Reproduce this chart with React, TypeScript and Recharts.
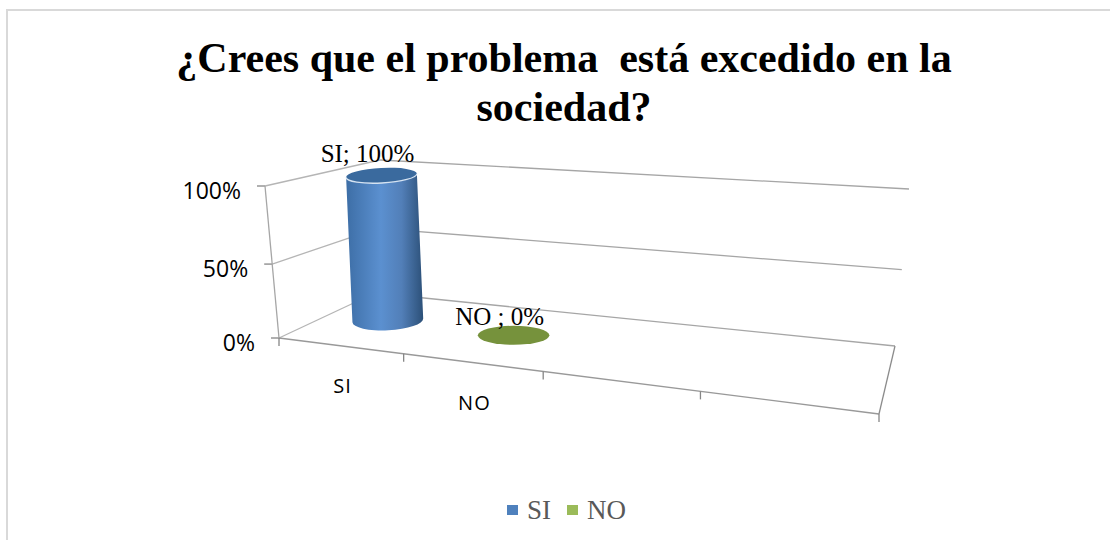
import React from 'react';
import { BarChart, Bar, XAxis, YAxis, Legend, LabelList } from 'recharts';

const categories = ['SI', 'NO', '', ''];
const values = [100, 0, null, null];
const dataLabels = ['SI; 100%', 'NO ; 0%', '', ''];
const yTicks = [0, 50, 100];
const legendNames = ['SI', 'NO'];
const titleLines = ['¿Crees que el problema  está excedido en la', 'sociedad?'];

const bodyColors = [
  ['#3d6ea6', '#5b90d0', '#527fb8', '#2c5078'],
  ['#9bbb59', '#9bbb59', '#9bbb59', '#9bbb59'],
];
const capColors = ['#3a6a9e', '#76923c'];
const legendColors = ['#4f81bd', '#9bbb59'];

const data = categories.map((name, i) => ({ name, value: values[i], label: dataLabels[i] }));

const serif = '"Liberation Serif", serif';
const sans = '"Open Sans", sans-serif';

// flat plot box that recharts lays out, the 3D look is projected from it
const plot = { left: 279, top: 186, width: 601, height: 152 };

// floor corners of the 3D box as seen on the page
const FL = [279, 338];
const FR = [879, 414];
const BR = [895, 346];
const BL = [375, 293];
// what 100% adds to each floor corner
const upFL = [-14, -152];
const upFR = [-4, -165];
const upBR = [14, -157];
const upBL = [5, -133];

const dx1 = FR[0] - BR[0];
const dx2 = BL[0] - BR[0];
const sx = FL[0] - FR[0] + BR[0] - BL[0];
const dy1 = FR[1] - BR[1];
const dy2 = BL[1] - BR[1];
const sy = FL[1] - FR[1] + BR[1] - BL[1];
const den = dx1 * dy2 - dx2 * dy1;
const g = (sx * dy2 - dx2 * sy) / den;
const h = (dx1 * sy - sx * dy1) / den;

// u along the categories, d into the depth, v = 0..1 of the value axis
const project = (u: number, d: number, v = 0) => {
  const w = g * u + h * d + 1;
  const x = ((FR[0] - FL[0] + g * FR[0]) * u + (BL[0] - FL[0] + h * BL[0]) * d + FL[0]) / w;
  const y = ((FR[1] - FL[1] + g * FR[1]) * u + (BL[1] - FL[1] + h * BL[1]) * d + FL[1]) / w;
  const up = [0, 1].map(
    (k) =>
      (1 - u) * (1 - d) * upFL[k] + u * (1 - d) * upFR[k] + u * d * upBR[k] + (1 - u) * d * upBL[k]
  );
  const vv = Math.pow(v, 1.04); // heights bunch up a little toward the top
  return { x: x + up[0] * vv, y: y + up[1] * vv };
};

const toU = (px: number) => (px - plot.left) / plot.width;
const toV = (py: number) => (plot.top + plot.height - py) / plot.height;

const Cylinder = (props: any) => {
  const { x, y, width, index } = props;
  const v = toV(y);
  const uc = toU(x + width / 2);
  const a = project(toU(x), 0.5);
  const b = project(toU(x + width), 0.5);
  const c = project(uc, 0.5);
  const t = project(uc, 0.5, v);
  const rx = Math.hypot(b.x - a.x, b.y - a.y) / 2;
  if (v <= 0.001) {
    return <ellipse cx={c.x + 2} cy={c.y + 1} rx={rx * 0.91} ry={9.5} fill={capColors[index]} />;
  }
  t.x -= 3; // the column leans a bit more than the walls do
  const tilt = -3;
  const cos = Math.cos((tilt * Math.PI) / 180);
  const sin = Math.sin((tilt * Math.PI) / 180);
  const bl = { x: c.x - rx * cos, y: c.y - rx * sin };
  const br = { x: c.x + rx * cos, y: c.y + rx * sin };
  const tl = { x: t.x - rx * cos, y: t.y - rx * sin };
  const tr = { x: t.x + rx * cos, y: t.y + rx * sin };
  const ry = 10;
  const ryTop = 7.5;
  return (
    <g>
      <defs>
        <linearGradient id={`cyl${index}`} x1="0" y1="0" x2="1" y2="0">
          <stop offset="0%" stopColor={bodyColors[index][0]} />
          <stop offset="45%" stopColor={bodyColors[index][1]} />
          <stop offset="72%" stopColor={bodyColors[index][2]} />
          <stop offset="100%" stopColor={bodyColors[index][3]} />
        </linearGradient>
      </defs>
      <path
        d={`M${tl.x} ${tl.y} L${tr.x} ${tr.y} L${br.x} ${br.y} A${rx} ${ry} ${tilt} 0 1 ${bl.x} ${bl.y} Z`}
        fill={`url(#cyl${index})`}
      />
      <ellipse cx={t.x} cy={t.y} rx={rx} ry={ryTop} fill={capColors[index]} transform={`rotate(${tilt} ${t.x} ${t.y})`} />
      <path d={`M${tl.x} ${tl.y} A${rx} ${ryTop} ${tilt} 0 0 ${tr.x} ${tr.y}`} fill="none" stroke="#d5e3f2" strokeWidth={1.3} />
    </g>
  );
};

// data labels were dragged by hand in the original, so each has its own nudge
const labelNudge = [[-17, -22], [-12, -18]];

const BarLabel = (props: any) => {
  const { x, y, width, value, index } = props;
  if (!value) return null;
  const p = project(toU(x + width / 2), 0.5, toV(y));
  return (
    <text
      x={p.x + labelNudge[index][0]}
      y={p.y + labelNudge[index][1]}
      textAnchor="middle"
      dominantBaseline="central"
      fontFamily={serif}
      fontSize={25}
      fill="#000"
      style={{ whiteSpace: 'pre' }}
    >
      {value}
    </text>
  );
};

const YTick = (props: any) => {
  const { y, payload } = props;
  const p = project(0, 0, toV(y));
  return (
    <text x={p.x - 24} y={p.y + 4} textAnchor="end" dominantBaseline="central" fontFamily={sans} fontSize={23} fill="#000">
      {payload.value}%
    </text>
  );
};

const XTick = (props: any) => {
  const { x, payload } = props;
  if (!payload.value) return null;
  const p = project(toU(x), 0);
  return (
    <text x={p.x + 3} y={p.y + 40} textAnchor="middle" dominantBaseline="central" fontFamily={sans} fontSize={20} letterSpacing={1} fill="#000">
      {payload.value}
    </text>
  );
};

const Frame = () => {
  const line = (a: { x: number; y: number }, b: { x: number; y: number }, key: string, color: string) => (
    <line key={key} x1={a.x} y1={a.y} x2={b.x} y2={b.y} stroke={color} strokeWidth={1.3} />
  );
  return (
    <g>
      {yTicks.map((t) => {
        const v = t / 100;
        const a = project(0, 0, v);
        const b = project(0, 1, v);
        const c = project(1, 1, v);
        return (
          <g key={t}>
            {line(a, b, `w${t}`, '#b5b5b5')}
            {line(b, c, `g${t}`, '#a6a6a6')}
            <line x1={a.x - 8} y1={a.y} x2={a.x} y2={a.y} stroke="#868686" strokeWidth={1.3} />
          </g>
        );
      })}
      {line(project(0, 0), project(0, 0, 1), 'axis', '#a6a6a6')}
      {line(project(0, 0), project(1, 0), 'front', '#999999')}
      {line(project(1, 0), project(1, 1), 'side', '#8c8c8c')}
      {categories.concat('').map((_, i) => {
        const p = project(i / categories.length, 0);
        return <line key={i} x1={p.x} y1={p.y} x2={p.x} y2={p.y + 8} stroke="#868686" strokeWidth={1.3} />;
      })}
    </g>
  );
};

const LegendContent = () => (
  <div style={{ display: 'flex', alignItems: 'center', height: 34, fontFamily: serif, fontSize: 27, color: '#595959' }}>
    {legendNames.map((name, i) => (
      <div key={name} style={{ display: 'flex', alignItems: 'center', marginRight: 16 }}>
        <span style={{ width: 11, height: 10, background: legendColors[i], marginRight: 9 }} />
        <span>{name}</span>
      </div>
    ))}
  </div>
);

const App = () => {
  return (
    <div style={{ position: 'absolute', left: 0, top: 0, width: 1110, height: 540, background: '#fff' }}>
      <div style={{ position: 'absolute', left: 6, top: 9, width: 1104, height: 2, background: '#d9d9d9' }} />
      <div style={{ position: 'absolute', left: 6, top: 9, width: 2, height: 531, background: '#d9d9d9' }} />
      <BarChart
        width={1110}
        height={540}
        data={data}
        margin={{ top: 186, right: 230, bottom: 126, left: 0 }}
        barCategoryGap="20%"
      >
        <text x={564} y={72} textAnchor="middle" fontFamily={serif} fontWeight="bold" fontSize={42} fill="#000" style={{ whiteSpace: 'pre' }}>
          {titleLines[0]}
        </text>
        <text x={564} y={121} textAnchor="middle" fontFamily={serif} fontWeight="bold" fontSize={42} fill="#000">
          {titleLines[1]}
        </text>
        <Frame />
        <XAxis dataKey="name" height={42} interval={0} axisLine={false} tickLine={false} tick={<XTick />} />
        <YAxis width={279} domain={[0, 100]} ticks={yTicks} axisLine={false} tickLine={false} tick={<YTick />} />
        <Legend
          content={<LegendContent />}
          wrapperStyle={{ position: 'absolute', left: 507, top: 493, width: 200, height: 34, bottom: 'auto' }}
        />
        <Bar dataKey="value" isAnimationActive={false} shape={<Cylinder />}>
          <LabelList dataKey="label" content={<BarLabel />} />
        </Bar>
      </BarChart>
    </div>
  );
};

export default App;
